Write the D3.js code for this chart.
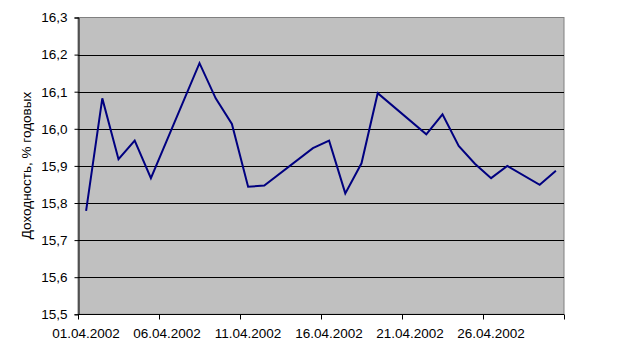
<!DOCTYPE html>
<html>
<head>
<meta charset="utf-8">
<script src="https://cdn.jsdelivr.net/npm/d3@7"></script>
<style>
  body { margin: 0; background: #fff; }
  text { font-family: Arial, "Liberation Sans", sans-serif; font-size: 13.5px; fill: #000; }
</style>
</head>
<body>
<svg id="chart" width="618" height="352"></svg>
<script>
// trading days of April 2002 (weekends skipped, 27.04 was a working Saturday)
const days = ["01.04.2002", "02.04.2002", "03.04.2002", "04.04.2002", "05.04.2002",
  "08.04.2002", "09.04.2002", "10.04.2002", "11.04.2002", "12.04.2002",
  "15.04.2002", "16.04.2002", "17.04.2002", "18.04.2002", "19.04.2002",
  "22.04.2002", "23.04.2002", "24.04.2002", "25.04.2002", "26.04.2002",
  "27.04.2002", "29.04.2002", "30.04.2002"];
const yields = [15.779, 16.082, 15.918, 15.968, 15.867,
  16.177, 16.082, 16.013, 15.844, 15.847,
  15.948, 15.968, 15.826, 15.907, 16.096,
  15.985, 16.039, 15.954, 15.906, 15.867,
  15.900, 15.849, 15.887];
const xTickLabels = ["01.04.2002", "06.04.2002", "11.04.2002", "16.04.2002", "21.04.2002", "26.04.2002"];
const yTicks = [15.5, 15.6, 15.7, 15.8, 15.9, 16.0, 16.1, 16.2, 16.3];
const yTitle = "Доходность, % годовых";

const parse = d3.utcParse("%d.%m.%Y");
const fmtY = v => d3.format(".1f")(v).replace(".", ",");

const plot = { left: 78, right: 564, top: 17.5, bottom: 314.3 };

const x = d3.scaleUtc()
  .domain([parse("01.04.2002"), parse("01.05.2002")])
  .range([plot.left, plot.right]);
const y = d3.scaleLinear()
  .domain([15.5, 16.3])
  .range([plot.bottom, plot.top]);

// points sit in the middle of their day
const mid = d => d3.utcHour.offset(parse(d), 12);

const svg = d3.select("#chart");

svg.append("rect")
  .attr("x", plot.left).attr("y", plot.top)
  .attr("width", plot.right - plot.left).attr("height", plot.bottom - plot.top)
  .attr("fill", "#c0c0c0")
  .attr("stroke", "#808080").attr("stroke-width", 1);

// horizontal gridlines
svg.append("g").selectAll("line")
  .data(yTicks.slice(1, -1))
  .join("line")
  .attr("x1", plot.left).attr("x2", plot.right)
  .attr("y1", d => Math.round(y(d)) + 0.5).attr("y2", d => Math.round(y(d)) + 0.5)
  .attr("stroke", "#000").attr("stroke-width", 1);

// y axis
const yAxis = d3.axisLeft(y).tickValues(yTicks).tickFormat(fmtY).tickSize(4).tickPadding(7);
const gy = svg.append("g")
  .attr("transform", `translate(${plot.left + 0.5},0)`)
  .call(yAxis);
gy.select(".domain").attr("stroke", "#000");
gy.selectAll("text").style("font-size", "13.5px").style("font-family", "Arial, 'Liberation Sans', sans-serif");

// x axis: ticks every 5 days, labels centred on the day
const tickDates = d3.utcDay.range(parse("01.04.2002"), parse("02.05.2002"), 1)
  .filter((d, i) => i % 5 === 0 || i === 30);
const gx = svg.append("g").attr("transform", `translate(0,${Math.round(plot.bottom) + 0.5})`);
gx.append("line")
  .attr("x1", plot.left).attr("x2", plot.right)
  .attr("stroke", "#000");
gx.selectAll("line.tick")
  .data(tickDates)
  .join("line")
  .attr("class", "tick")
  .attr("x1", d => Math.round(x(d)) + 0.5).attr("x2", d => Math.round(x(d)) + 0.5)
  .attr("y1", 0).attr("y2", 5)
  .attr("stroke", "#000");
gx.selectAll("text")
  .data(xTickLabels)
  .join("text")
  .attr("x", d => x(mid(d)))
  .attr("y", 23)
  .attr("text-anchor", "middle")
  .text(d => d);

// y title
svg.append("text")
  .attr("transform", "translate(31,165.5) rotate(-90)")
  .attr("text-anchor", "middle")
  .text(yTitle);

// series
const line = d3.line()
  .x((d, i) => x(mid(days[i])))
  .y(d => y(d));
svg.append("path")
  .datum(yields)
  .attr("d", line)
  .attr("fill", "none")
  .attr("stroke", "#000080")
  .attr("stroke-width", 2)
  .attr("stroke-linejoin", "miter");
</script>
</body>
</html>
